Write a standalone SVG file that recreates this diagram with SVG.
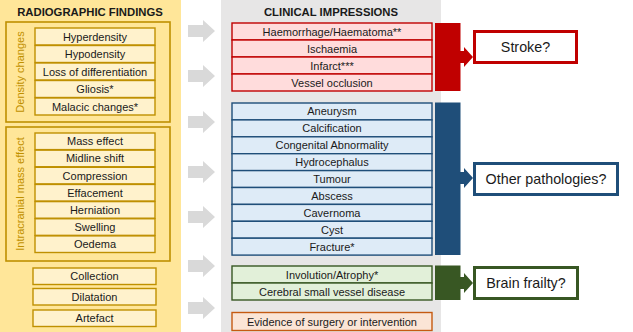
<svg xmlns="http://www.w3.org/2000/svg" width="633" height="332" viewBox="0 0 633 332">
<style>
text{font-family:"Liberation Sans",Arial,sans-serif;fill:#1a1a1a;text-anchor:middle}
.t{font-size:11px}
.h{font-size:11.3px;font-weight:bold}
.big{font-size:14.3px}
.lbl{font-size:11px;fill:#bf9000}
.y{fill:#fff2cc;stroke:#bf9000;stroke-width:1.4}
.fr{fill:none;stroke:#bf9000;stroke-width:1.6}
.r{fill:#ffdcdc;stroke:#c00000;stroke-width:1.4}
.b{fill:#deebf7;stroke:#1f4e79;stroke-width:1.4}
.g{fill:#e2f0d9;stroke:#385723;stroke-width:1.4}
.o{fill:#fbe5d6;stroke:#c55a11;stroke-width:1.4}
.ga{fill:#d9d9d9}
</style>
<rect x="0" y="0" width="181" height="332" fill="#ffe699"/>
<rect x="221" y="0" width="220" height="332" fill="#e7e6e6"/>
<text class="h" x="90" y="16">RADIOGRAPHIC FINDINGS</text>
<text class="h" x="331" y="16">CLINICAL IMPRESSIONS</text>

<g id="density-changes">
<rect class="fr" x="6" y="22" width="164" height="100"/>
<text class="lbl" transform="translate(24,72) rotate(-90)">Density changes</text>
<rect class="y" x="35" y="28" width="120" height="17"/><text class="t" x="95" y="40.5">Hyperdensity</text>
<rect class="y" x="35" y="45.5" width="120" height="17"/><text class="t" x="95" y="58">Hypodensity</text>
<rect class="y" x="35" y="63" width="120" height="17"/><text class="t" x="95" y="75.5">Loss of differentiation</text>
<rect class="y" x="35" y="80.5" width="120" height="17"/><text class="t" x="95" y="93">Gliosis*</text>
<rect class="y" x="35" y="98" width="120" height="17"/><text class="t" x="95" y="110.5">Malacic changes*</text>
</g>

<g id="intracranial-mass-effect">
<rect class="fr" x="6" y="127" width="164" height="134"/>
<text class="lbl" transform="translate(24,194) rotate(-90)">Intracranial mass effect</text>
<rect class="y" x="35" y="133" width="120" height="16.6"/><text class="t" x="95" y="145.3">Mass effect</text>
<rect class="y" x="35" y="150.15" width="120" height="16.6"/><text class="t" x="95" y="162.45">Midline shift</text>
<rect class="y" x="35" y="167.3" width="120" height="16.6"/><text class="t" x="95" y="179.6">Compression</text>
<rect class="y" x="35" y="184.45" width="120" height="16.6"/><text class="t" x="95" y="196.75">Effacement</text>
<rect class="y" x="35" y="201.6" width="120" height="16.6"/><text class="t" x="95" y="213.9">Herniation</text>
<rect class="y" x="35" y="218.75" width="120" height="16.6"/><text class="t" x="95" y="231.05">Swelling</text>
<rect class="y" x="35" y="235.9" width="120" height="16.6"/><text class="t" x="95" y="248.2">Oedema</text>
</g>

<g id="collection"><rect class="y" x="33" y="268" width="123" height="16.5"/><text class="t" x="94.5" y="280.3">Collection</text></g>
<g id="dilatation"><rect class="y" x="33" y="288.5" width="123" height="16.5"/><text class="t" x="94.5" y="300.8">Dilatation</text></g>
<g id="artefact"><rect class="y" x="33" y="310" width="123" height="16.5"/><text class="t" x="94.5" y="322.3">Artefact</text></g>

<g id="connectors">
<g class="ga">
<path d="M188,25 H203 V20 L215,31 L203,42 V37 H188 Z"/>
<path d="M188,70 H203 V65 L215,76 L203,87 V82 H188 Z"/>
<path d="M188,116 H203 V111 L215,122 L203,133 V128 H188 Z"/>
<path d="M188,166 H203 V161 L215,172 L203,183 V178 H188 Z"/>
<path d="M188,211 H203 V206 L215,217 L203,228 V223 H188 Z"/>
<path d="M188,260 H203 V255 L215,266 L203,277 V272 H188 Z"/>
<path d="M188,302 H203 V297 L215,308 L203,319 V314 H188 Z"/>
</g>
<path fill="#c00000" d="M460,51 H464 V47 L473,57 L464,67 V63 H460 Z"/>
<path fill="#1f4e79" d="M460,172 H464 V168 L473,178 L464,188 V184 H460 Z"/>
<path fill="#385723" d="M460,277 H464 V273 L473,283 L464,293 V289 H460 Z"/>
</g>

<g id="stroke-group">
<rect class="r" x="232" y="23" width="200" height="17"/><text class="t" x="332" y="35.5">Haemorrhage/Haematoma**</text>
<rect class="r" x="232" y="40" width="200" height="17"/><text class="t" x="332" y="52.5">Ischaemia</text>
<rect class="r" x="232" y="57" width="200" height="17"/><text class="t" x="332" y="69.5">Infarct***</text>
<rect class="r" x="232" y="74" width="200" height="17"/><text class="t" x="332" y="86.5">Vessel occlusion</text>
<rect x="435" y="23" width="25.5" height="68" fill="#c00000"/>
</g>

<g id="other-group">
<rect class="b" x="232" y="103" width="200" height="16.9"/><text class="t" x="332" y="115.4">Aneurysm</text>
<rect class="b" x="232" y="119.9" width="200" height="16.9"/><text class="t" x="332" y="132.3">Calcification</text>
<rect class="b" x="232" y="136.8" width="200" height="16.9"/><text class="t" x="332" y="149.2">Congenital Abnormality</text>
<rect class="b" x="232" y="153.7" width="200" height="16.9"/><text class="t" x="332" y="166.1">Hydrocephalus</text>
<rect class="b" x="232" y="170.6" width="200" height="16.9"/><text class="t" x="332" y="183">Tumour</text>
<rect class="b" x="232" y="187.5" width="200" height="16.9"/><text class="t" x="332" y="199.9">Abscess</text>
<rect class="b" x="232" y="204.4" width="200" height="16.9"/><text class="t" x="332" y="216.8">Cavernoma</text>
<rect class="b" x="232" y="221.3" width="200" height="16.9"/><text class="t" x="332" y="233.7">Cyst</text>
<rect class="b" x="232" y="238.2" width="200" height="16.9"/><text class="t" x="332" y="250.6">Fracture*</text>
<rect x="435" y="102.5" width="25.5" height="152.5" fill="#1f4e79"/>
</g>

<g id="frailty-group">
<rect class="g" x="232" y="266" width="200" height="17"/><text class="t" x="332" y="278.5">Involution/Atrophy*</text>
<rect class="g" x="232" y="283" width="200" height="17"/><text class="t" x="332" y="295.5">Cerebral small vessel disease</text>
<rect x="435" y="265.5" width="25.5" height="34.5" fill="#385723"/>
</g>

<g id="surgery">
<rect class="o" x="232" y="312.5" width="200" height="18"/><text class="t" x="332" y="325.5">Evidence of surgery or intervention</text>
</g>

<g id="stroke"><rect x="474.5" y="31.5" width="102" height="31" fill="#fff" stroke="#c00000" stroke-width="3"/><text class="big" x="525.5" y="52">Stroke?</text></g>
<g id="other-pathologies"><rect x="474.5" y="163.5" width="143" height="31" fill="#fff" stroke="#1f4e79" stroke-width="3"/><text class="big" x="546" y="184">Other pathologies?</text></g>
<g id="brain-frailty"><rect x="474.5" y="267.5" width="103" height="31" fill="#fff" stroke="#385723" stroke-width="3"/><text class="big" x="526" y="288">Brain frailty?</text></g>
</svg>
